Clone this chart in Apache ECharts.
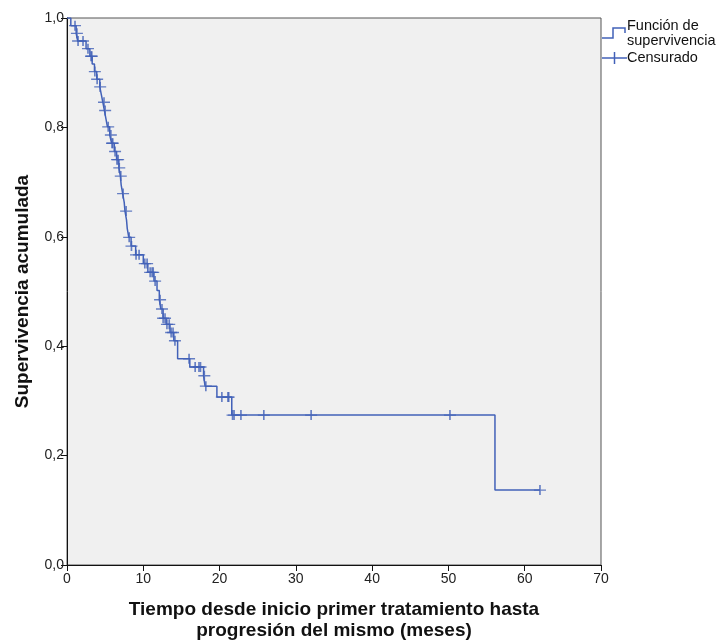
<!DOCTYPE html>
<html>
<head>
<meta charset="utf-8">
<script src="https://cdn.jsdelivr.net/npm/echarts@6/dist/echarts.min.js"></script>
<style>
html,body{margin:0;padding:0;background:#fff;overflow:hidden;}
#chart{width:719px;height:643px;}
</style>
</head>
<body>
<div id="chart"></div>
<script>
// Kaplan-Meier step points: time (months) and survival after the drop
var stepTimes = [0, 0.5, 1.2, 1.4, 2.5, 3.0, 3.3, 3.6, 3.9, 4.3, 4.5, 4.7, 4.9, 5.1, 5.3, 5.6, 5.85, 6.2, 6.5, 6.8, 7.0, 7.1, 7.3, 7.5, 7.6, 7.8, 7.9, 8.1, 8.4, 9.0, 10.0, 10.6, 11.4, 11.8, 12.1, 12.3, 12.6, 13.0, 13.5, 14.0, 14.5, 16.1, 17.9, 18.1, 19.65, 21.6, 56.1, 62.0];
var stepSurv  = [1.0, 0.986, 0.972, 0.958, 0.944, 0.930, 0.916, 0.902, 0.888, 0.874, 0.860, 0.846, 0.831, 0.816, 0.801, 0.786, 0.771, 0.756, 0.741, 0.726, 0.711, 0.695, 0.679, 0.663, 0.647, 0.631, 0.615, 0.599, 0.583, 0.567, 0.551, 0.535, 0.519, 0.502, 0.485, 0.468, 0.451, 0.440, 0.425, 0.410, 0.377, 0.362, 0.346, 0.327, 0.307, 0.274, 0.137, 0.137];

// Censored observations
var censorTimes = [1.05, 1.3, 1.45, 2.1, 2.75, 3.15, 3.25, 3.65, 3.95, 4.35, 4.85, 5.0, 5.4, 5.75, 5.9, 6.0, 6.3, 6.55, 6.7, 6.85, 7.05, 7.35, 7.75, 8.15, 8.45, 9.05, 9.45, 10.2, 10.5, 10.9, 11.15, 11.3, 11.55, 12.2, 12.45, 12.6, 12.85, 13.1, 13.4, 13.65, 13.9, 14.15, 16.0, 16.8, 17.3, 17.5, 18.0, 18.2, 20.3, 21.1, 21.2, 21.7, 21.9, 22.8, 25.8, 32.0, 50.2, 62.0];
var censorSurv  = [0.986, 0.972, 0.958, 0.958, 0.944, 0.930, 0.930, 0.902, 0.888, 0.874, 0.846, 0.831, 0.801, 0.786, 0.771, 0.771, 0.756, 0.741, 0.741, 0.726, 0.711, 0.679, 0.647, 0.599, 0.583, 0.567, 0.567, 0.551, 0.551, 0.535, 0.535, 0.535, 0.519, 0.485, 0.468, 0.451, 0.451, 0.440, 0.440, 0.425, 0.425, 0.410, 0.377, 0.362, 0.362, 0.362, 0.346, 0.327, 0.307, 0.307, 0.307, 0.274, 0.274, 0.274, 0.274, 0.274, 0.274, 0.137];

var xTickLabels = ['0', '10', '20', '30', '40', '50', '60', '70'];
var yTickLabels = ['0,0', '0,2', '0,4', '0,6', '0,8', '1,0'];

var legendLabels = ['Función de\nsupervivencia', 'Censurado'];
var xAxisTitle = 'Tiempo desde inicio primer tratamiento hasta\nprogresión del mismo (meses)';
var yAxisTitle = 'Supervivencia acumulada';

var BLUE = '#4261b8';
var FONT = '"Liberation Sans", Arial, sans-serif';

var stepData = stepTimes.map(function (t, i) { return [t, stepSurv[i]]; });
var censorData = censorTimes.map(function (t, i) { return [t, censorSurv[i]]; });

var chart = echarts.init(document.getElementById('chart'), null, {renderer: 'canvas', width: 719, height: 643});
chart.setOption({
  animation: false,
  backgroundColor: '#ffffff',
  textStyle: {fontFamily: FONT},
  grid: {
    left: 67, top: 18, right: 118, bottom: 78,
    containLabel: false, outerBoundsMode: 'none',
    show: true, backgroundColor: '#f0f0f0', borderColor: '#555', borderWidth: 1
  },
  xAxis: {
    type: 'value', min: 0, max: 70, interval: 10,
    name: xAxisTitle, nameLocation: 'middle', nameGap: 34,
    nameTextStyle: {fontFamily: FONT, fontSize: 19, fontWeight: 'bold', color: '#111', lineHeight: 21, verticalAlign: 'top'},
    axisLine: {show: true, lineStyle: {color: '#111', width: 1}},
    axisTick: {show: true, length: 6, lineStyle: {color: '#111'}},
    axisLabel: {fontFamily: FONT, fontSize: 14, color: '#222', margin: 7,
      formatter: function (v) { return xTickLabels[Math.round(v / 10)]; }},
    splitLine: {show: false}
  },
  yAxis: {
    type: 'value', min: 0, max: 1, interval: 0.2,
    name: yAxisTitle, nameLocation: 'middle', nameGap: 35, nameRotate: 90,
    nameTextStyle: {fontFamily: FONT, fontSize: 19, fontWeight: 'bold', color: '#111'},
    axisLine: {show: true, lineStyle: {color: '#111', width: 1}},
    axisTick: {show: true, length: 6, lineStyle: {color: '#111'}},
    axisLabel: {fontFamily: FONT, fontSize: 14, color: '#222', margin: 3,
      formatter: function (v) { return yTickLabels[Math.round(v * 5)]; }},
    splitLine: {show: false}
  },
  series: [
    {
      type: 'line', step: 'end', data: stepData, showSymbol: false,
      lineStyle: {color: BLUE, width: 1.5}, z: 2
    },
    {
      type: 'scatter', data: censorData,
      symbol: 'path://M0,5L10,5M5,0L5,10', symbolSize: [12, 10],
      itemStyle: {color: 'rgba(0,0,0,0)', borderColor: BLUE, borderWidth: 1.5},
      z: 3
    }
  ],
  graphic: [
    {type: 'polyline', shape: {points: [[602, 38], [613, 38], [613, 28], [625, 28], [625, 33]]},
     style: {stroke: BLUE, lineWidth: 1.5, fill: null}},
    {type: 'text', left: 627, top: 18,
     style: {text: legendLabels[0], fontFamily: FONT, fontSize: 14.5, lineHeight: 15, fill: '#111'}},
    {type: 'line', shape: {x1: 602, y1: 58, x2: 627, y2: 58}, style: {stroke: BLUE, lineWidth: 1.5}},
    {type: 'line', shape: {x1: 614.5, y1: 52, x2: 614.5, y2: 64}, style: {stroke: BLUE, lineWidth: 1.5}},
    {type: 'text', left: 627, top: 50,
     style: {text: legendLabels[1], fontFamily: FONT, fontSize: 14.5, fill: '#111'}}
  ]
});
</script>
</body>
</html>
